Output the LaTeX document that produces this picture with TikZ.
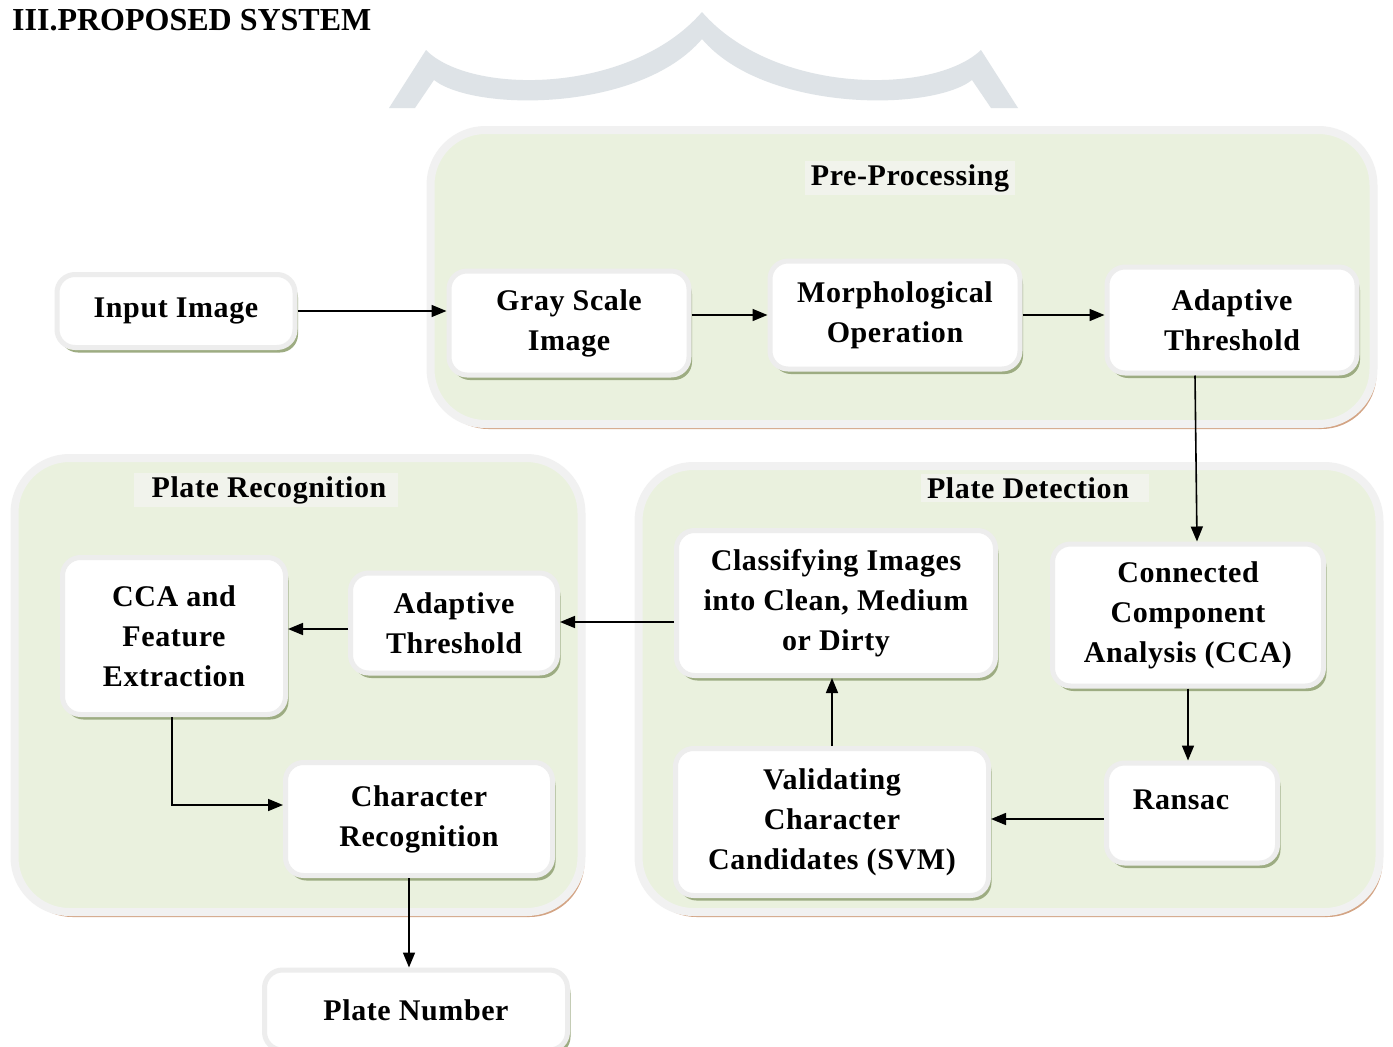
\documentclass[tikz,border=0pt]{standalone}
\usepackage{fontspec}
\setmainfont{Liberation Serif}
\usetikzlibrary{arrows.meta,calc}
\definecolor{wmark}{HTML}{DEE3E7}
\definecolor{grpfill}{HTML}{EAF1DE}
\definecolor{grpborder}{HTML}{F1F1F1}
\definecolor{grpshadow}{HTML}{D3A484}
\definecolor{boxborder}{HTML}{EDEDED}
\definecolor{boxshadow}{HTML}{9DAC82}
\definecolor{titlebg}{HTML}{F1F3EC}
\tikzset{
  txt/.style={font=\fontsize{30}{40}\selectfont\bfseries\addfontfeatures{LetterSpace=2}, align=center},
  group/.style={draw=grpborder, line width=8pt, fill=grpfill, rounded corners=55pt,
    inner sep=0pt,
    preaction={fill=grpshadow, transform canvas={shift={(3pt,-5pt)}}}},
  grptitle/.style={txt, fill=titlebg, inner xsep=6pt, inner ysep=3pt},
  procbox/.style={txt, draw=boxborder, line width=5pt, fill=white, rounded corners=18pt,
    inner sep=0pt,
    preaction={fill=boxshadow, transform canvas={shift={(3pt,-5pt)}}}},
  arr/.style={line width=1.6pt, -{Triangle[length=15pt,width=12pt]}},
}
\begin{document}
\begin{tikzpicture}[x=1pt,y=-1pt]
\useasboundingbox[fill=white] (0,0) rectangle (1393,1047);
% watermark
\fill[wmark] (389,108) -- (426,50) .. controls (470,95) and (630,95) .. (702,12)
  .. controls (774,95) and (934,95) .. (981,50) -- (1018,108) -- (991,108) -- (972,80)
  .. controls (931,112) and (764,112) .. (702,39)
  .. controls (640,112) and (475,112) .. (434,80) -- (415,108) -- cycle;
% heading
\node[anchor=base west, inner sep=0pt, font=\fontsize{32}{36}\selectfont\bfseries] (heading) at (12,30) {III.PROPOSED SYSTEM};
% groups
\node[group, minimum width=943pt, minimum height=294pt] (pre) at (902,277) {};
\node[group, minimum width=567pt, minimum height=454pt] (rec) at (298,685) {};
\node[group, minimum width=741pt, minimum height=446pt] (det) at (1009,689) {};
\node[grptitle] (pretitle) at (910,178) {Pre-Processing};
\node[grptitle, inner xsep=12pt] (rectitle) at (266,490) {\hspace*{6pt}Plate Recognition};
\node[grptitle] (dettitle) at (1035,488) {Plate Detection\hspace*{14pt}};
% boxes
\node[procbox, minimum width=238pt, minimum height=73pt] (input) at (176,311) {Input Image};
\node[procbox, minimum width=240pt, minimum height=104pt] (gray) at (569,323) {Gray Scale\\Image};
\node[procbox, minimum width=250pt, minimum height=108pt] (morph) at (895,315) {Morphological\\Operation};
\node[procbox, minimum width=250pt, minimum height=106pt] (adapt1) at (1232,320) {Adaptive\\Threshold};
\node[procbox, minimum width=271pt, minimum height=142pt] (cca) at (1188,615) {Connected\\Component\\Analysis (CCA)};
\node[procbox, minimum width=171pt, minimum height=100pt] (ransac) at (1192,813) {};
\node[txt, inner sep=0pt] (ransaclbl) at (1181,800) {Ransac};
\node[procbox, minimum width=313pt, minimum height=147pt] (valid) at (832,822) {Validating\\Character\\Candidates (SVM)};
\node[procbox, minimum width=319pt, minimum height=145pt] (class) at (836,603) {Classifying Images\\into Clean, Medium\\or Dirty};
\node[procbox, minimum width=207pt, minimum height=100pt] (adapt2) at (454,623) {Adaptive\\Threshold};
\node[procbox, minimum width=223pt, minimum height=157pt] (ccaf) at (174,636) {CCA and\\Feature\\Extraction};
\node[procbox, minimum width=267pt, minimum height=113pt] (charrec) at (419,819) {Character\\Recognition};
\node[procbox, minimum width=303pt, minimum height=80pt] (platenum) at (416,1010) {Plate Number};
% connectors
\draw[arr] (input.east) -- (input.east -| gray.west);
\draw[arr] (gray.east |- morph.west) -- (morph.west);
\draw[arr] (morph.east) -- (morph.east -| adapt1.west);
\draw[arr] ($(adapt1.south)+(-37,0)$) -- ($(cca.north)+(9,0)$);
\draw[arr] (cca.south) -- (cca.south |- ransac.north);
\draw[arr] ($(ransac.west)+(0,6)$) -- ($(ransac.west -| valid.east)+(0,6)$);
\draw[arr] (valid.north) -- (valid.north |- class.south);
\draw[arr] ($(class.west)+(0,19)$) -- ($(class.west -| adapt2.east)+(0,19)$);
\draw[arr] ($(adapt2.west)+(0,6)$) -- ($(adapt2.west -| ccaf.east)+(0,6)$);
\draw[arr] ($(ccaf.south)+(-2,0)$) |- ($(charrec.west)+(0,-14)$);
\coordinate (crs) at ($(charrec.south)+(-10,0)$);
\draw[arr] (crs) -- (crs |- platenum.north);
\end{tikzpicture}
\end{document}
